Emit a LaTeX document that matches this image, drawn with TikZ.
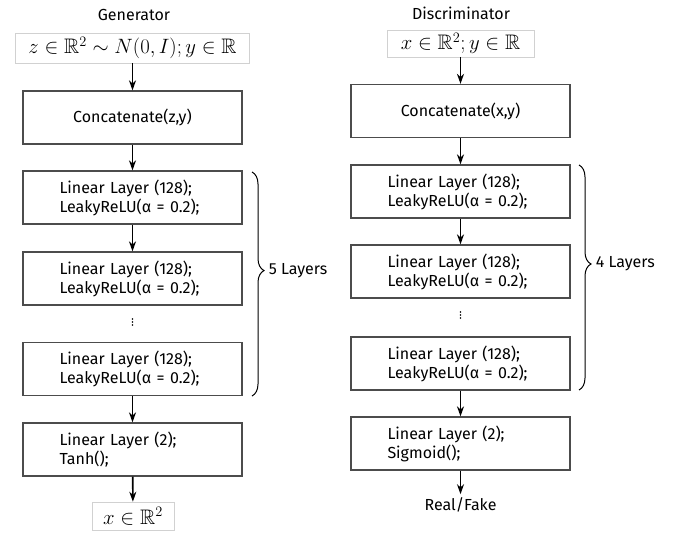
\documentclass[tikz,border=0pt]{standalone}
\usepackage{amsmath,amssymb}
\usepackage{fontspec}
\setmainfont{Fira Sans}
\usetikzlibrary{decorations.pathreplacing,arrows.meta}

\begin{document}
\begin{tikzpicture}[x=1pt,y=1pt,>={Stealth[length=10pt,width=7pt]}]
  \tikzstyle{layer}=[draw=black!70, line width=1.3pt, minimum width=219pt, minimum height=53pt, inner sep=0pt, text width=146pt, align=left, font=\fontsize{16}{19}\selectfont]
  \tikzstyle{io}=[draw=black!18, line width=0.6pt, inner sep=0pt, font=\fontsize{21}{24}\selectfont]
  \tikzstyle{ttl}=[font=\fontsize{16}{19}\selectfont]
  \tikzstyle{flow}=[->, line width=1.6pt]
  \tikzstyle{lyr}=[decorate, decoration={brace, amplitude=12pt, aspect=0.44}, line width=1pt]
  \useasboundingbox (0,0) rectangle (683,-533);

  % Generator
  \node[ttl] (gtitle) at (134,-15) {Generator};
  \node[io, minimum width=234pt, minimum height=30pt] (gin) at (132.5,-48) {$z \in \mathbb{R}^2 \sim N(0,I); y \in \mathbb{R}$};
  \node[layer, align=center] (gcat) at (132.5,-117.5) {Concatenate(z,y)};
  \node[layer] (g1) at (132.5,-197.5) {Linear Layer (128);\\LeakyReLU(α = 0.2);};
  \node[layer] (g2) at (132.5,-278.5) {Linear Layer (128);\\LeakyReLU(α = 0.2);};
  \coordinate (gdots) at (132.5,-322);
  \node[layer] (g3) at (132.5,-369) {Linear Layer (128);\\LeakyReLU(α = 0.2);};
  \node[layer] (g4) at (132.5,-449.5) {Linear Layer (2);\\Tanh();};
  \node[io, minimum width=82pt, minimum height=28pt] (gout) at (133,-516) {$x \in \mathbb{R}^2$};
  \foreach \a/\b in {gin/gcat,gcat/g1,g1/g2,g3/g4,g4/gout} {
    \draw[flow] (\a) -- (\b);
  }
  \foreach \d in {-3,0,3} {
    \fill ([yshift=\d pt]gdots) circle (0.9pt);
  }
  \coordinate (gtop) at (252,-172);
  \coordinate (gbot) at (252,-396);
  \draw[lyr] (gtop) -- (gbot) node[pos=0.44, right=13pt, font=\fontsize{16}{19}\selectfont] (glyr) {5 Layers};

  % Discriminator
  \node[ttl] (dtitle) at (461,-13) {Discriminator};
  \node[io, minimum width=147pt, minimum height=27pt] (din) at (460.5,-43.5) {$x \in \mathbb{R}^2; y \in \mathbb{R}$};
  \node[layer, align=center] (dcat) at (460.5,-111) {Concatenate(x,y)};
  \node[layer] (d1) at (460.5,-191.5) {Linear Layer (128);\\LeakyReLU(α = 0.2);};
  \node[layer] (d2) at (460.5,-271.5) {Linear Layer (128);\\LeakyReLU(α = 0.2);};
  \coordinate (ddots) at (460.5,-315);
  \node[layer] (d3) at (460.5,-363.5) {Linear Layer (128);\\LeakyReLU(α = 0.2);};
  \node[layer] (d4) at (460.5,-443.5) {Linear Layer (2);\\Sigmoid();};
  \node[ttl] (dout) at (460.5,-505) {Real/Fake};
  \foreach \a/\b in {din/dcat,dcat/d1,d1/d2,d3/d4,d4/dout} {
    \draw[flow] (\a) -- (\b);
  }
  \foreach \d in {-3,0,3} {
    \fill ([yshift=\d pt]ddots) circle (0.9pt);
  }
  \coordinate (dtop) at (579,-165);
  \coordinate (dbot) at (579,-390);
  \draw[lyr] (dtop) -- (dbot) node[pos=0.44, right=13pt, font=\fontsize{16}{19}\selectfont] (dlyr) {4 Layers};
\end{tikzpicture}
\end{document}
